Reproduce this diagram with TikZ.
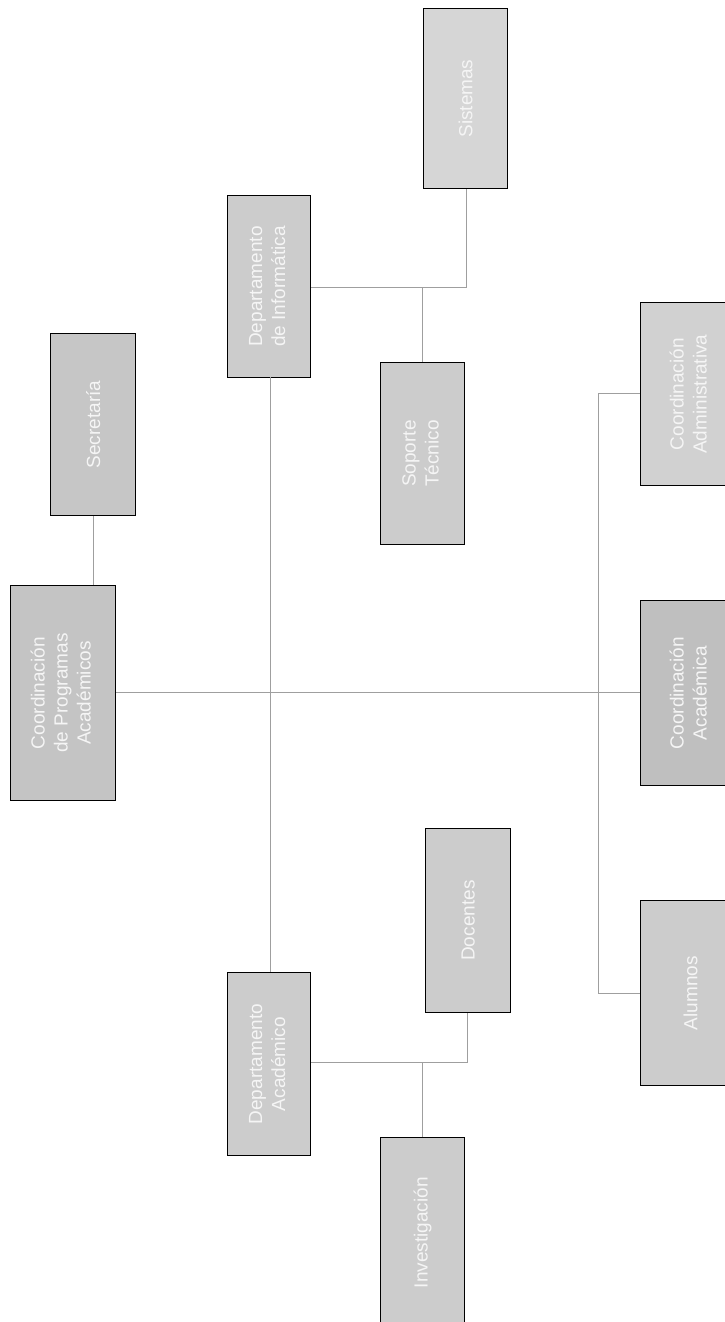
\documentclass[tikz,border=0pt]{standalone}
\usepackage{fontspec}
\setmainfont{Liberation Sans}
\begin{document}
\begin{tikzpicture}[x=1pt,y=-1pt,
  box/.style={draw=black,line width=1.2pt,fill=gray!40,minimum width=#1,anchor=north west,
    inner sep=0pt,align=center,text=white!92!gray,font=\fontsize{19}{23}\selectfont},
  link/.style={draw=gray!75,line width=0.7pt}]
\useasboundingbox (0,0) rectangle (725,1322);
\node[box=105pt,minimum height=215pt,fill=gray!46] (root) at (10,585) {\rotatebox{90}{\begin{tabular}{c}Coordinación\\de Programas\\Académicos\end{tabular}}};
\node[box=85pt,minimum height=182pt,fill=gray!45] (a) at (50,333) {\rotatebox{90}{Secretaría}};
\node[box=83pt,minimum height=182pt] (u) at (227,195) {\rotatebox{90}{\begin{tabular}{c}Departamento\\de Informática\end{tabular}}};
\node[box=84pt,minimum height=180pt,fill=gray!32] (x) at (423,8) {\rotatebox{90}{Sistemas}};
\node[box=84pt,minimum height=182pt] (y) at (380,362) {\rotatebox{90}{\begin{tabular}{c}Soporte\\Técnico\end{tabular}}};
\node[box=83pt,minimum height=183pt] (l) at (227,972) {\rotatebox{90}{\begin{tabular}{c}Departamento\\Académico\end{tabular}}};
\node[box=85pt,minimum height=184pt] (z) at (425,828) {\rotatebox{90}{Docentes}};
\node[box=84pt,minimum height=190pt] (w) at (380,1137) {\rotatebox{90}{Investigación}};
\node[box=100pt,minimum height=183pt,fill=gray!36] (t) at (640,302) {\rotatebox{90}{\begin{tabular}{c}Coordinación\\Administrativa\end{tabular}}};
\node[box=100pt,minimum height=185pt,fill=gray!50] (m) at (640,600) {\rotatebox{90}{\begin{tabular}{c}Coordinación\\Académica\end{tabular}}};
\node[box=100pt,minimum height=185pt] (b) at (640,900) {\rotatebox{90}{Alumnos}};
\coordinate (jr) at (598,692);
\coordinate (jt) at (598,393);
\coordinate (jb) at (598,993);
\coordinate (ju1) at (422,287);
\coordinate (ju2) at (466,287);
\coordinate (jl1) at (422,1062);
\coordinate (jl2) at (467,1062);
\draw[link] (a.south) -- (a.south |- root.north);
\draw[link] (root.east |- jr) -- (m.west |- jr);
\draw[link] (t.west |- jt) -- (jt) -- (jb) -- (b.west |- jb);
\draw[link] (270,377) -- (270,972);
\draw[link] (u.east |- ju1) -- (ju2) -- (ju2 |- x.south);
\draw[link] (ju1) -- (ju1 |- y.north);
\draw[link] (l.east |- jl1) -- (jl2) -- (jl2 |- z.south);
\draw[link] (jl1) -- (jl1 |- w.north);
\end{tikzpicture}
\end{document}
